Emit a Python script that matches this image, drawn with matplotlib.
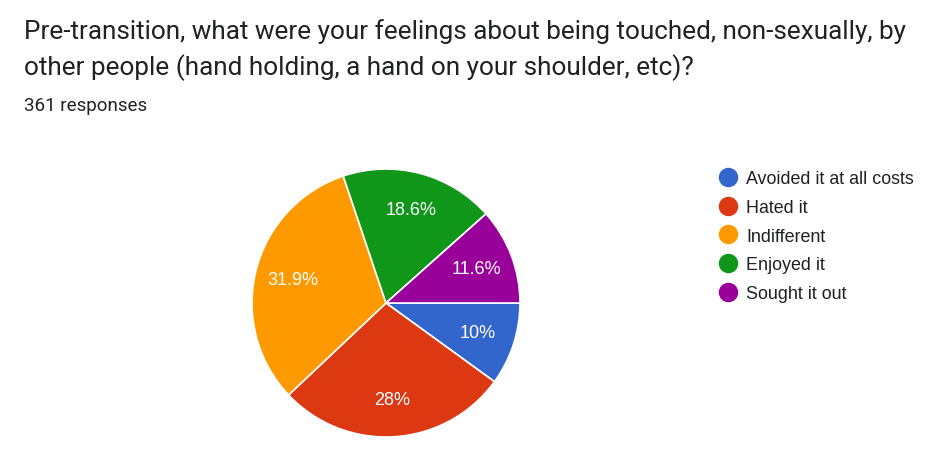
import matplotlib.pyplot as plt
from matplotlib.lines import Line2D

plt.rcParams['font.family'] = ['Liberation Sans', 'DejaVu Sans']

labels = ['Avoided it at all costs', 'Hated it', 'Indifferent', 'Enjoyed it', 'Sought it out']
values = [10, 28, 31.9, 18.6, 11.6]
colors = ['#3366cc', '#dc3912', '#ff9900', '#109618', '#990099']
title_lines = ['Pre-transition, what were your feelings about being touched, non-sexually, by',
               'other people (hand holding, a hand on your shoulder, etc)?']
subtitle = '361 responses'

W, H = 936, 456
fig = plt.figure(figsize=(W / 100, H / 100), dpi=100)

for i, line in enumerate(title_lines):
    fig.text(24 / W, 1 - (32 + 36 * i) / H, line, fontsize=18.85, color='#202124',
             va='center', ha='left', family=['Roboto', 'DejaVu Sans'])
fig.text(24 / W, 1 - 106 / H, subtitle, fontsize=13.5, color='#202124',
         va='center', ha='left', family=['Roboto', 'DejaVu Sans'])

# pie axes: centre (386, 304), radius 134 px
cx, cy, r = 386, 304, 134
ax = fig.add_axes([(cx - r) / W, (H - cy - r) / H, 2 * r / W, 2 * r / H])


def fmt(p):
    s = '%.1f' % p
    if s.endswith('.0'):
        s = s[:-2]
    return s + '%'


total = sum(values)
wedges, texts, autotexts = ax.pie(values, colors=colors, startangle=0, counterclock=False,
                                  autopct=lambda p: fmt(p * total / 100),
                                  pctdistance=0.72, radius=1,
                                  wedgeprops=dict(edgecolor='white', linewidth=1.2),
                                  textprops=dict(color='white', fontsize=13))
ax.set_xlim(-1, 1)
ax.set_ylim(-1, 1)
ax.set_aspect('equal')
ax.axis('off')

handles = [Line2D([], [], marker='o', linestyle='', markersize=13,
                  markerfacecolor=c, markeredgecolor=c) for c in colors]
fig.legend(handles, labels, loc='upper left', bbox_to_anchor=(719 / W, 1 - 171 / H),
           frameon=False, fontsize=12.9, labelspacing=0.66, handletextpad=0.5,
           handlelength=1.0, borderaxespad=0, borderpad=0, labelcolor='#202124')

fig.savefig('out.png', dpi=100)
